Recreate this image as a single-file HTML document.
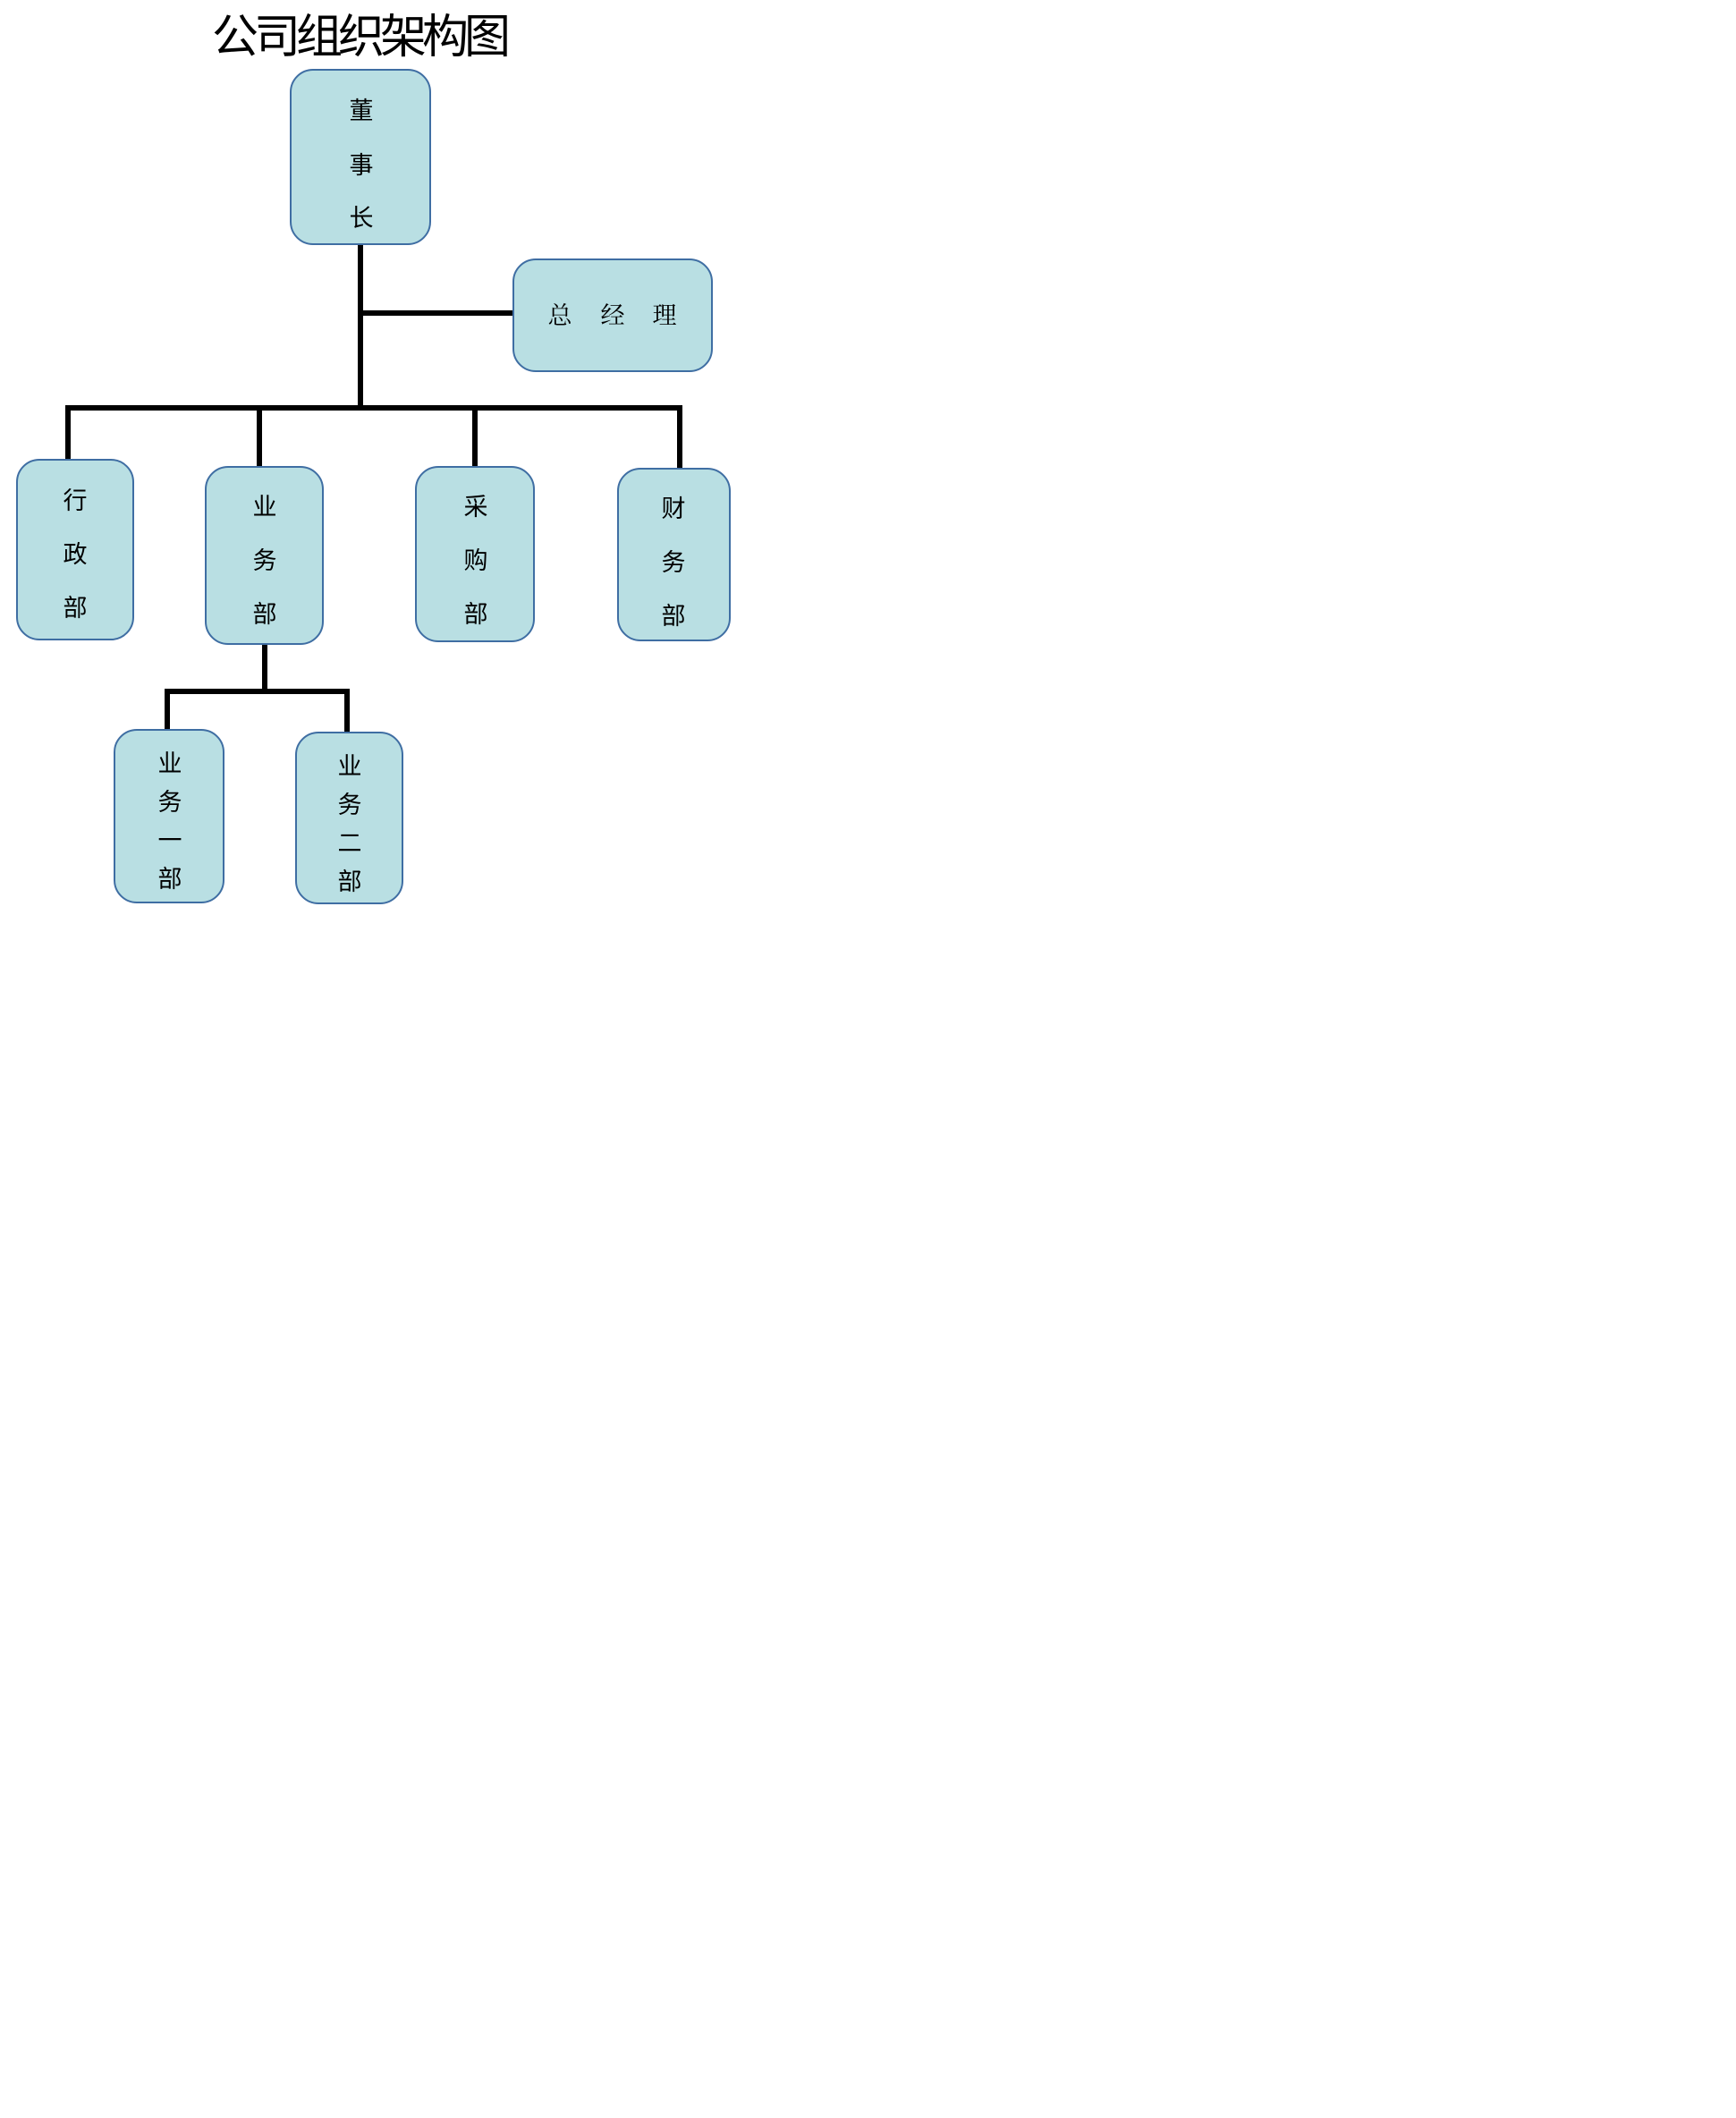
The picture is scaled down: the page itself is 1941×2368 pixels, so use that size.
<!DOCTYPE html>
<html><head><meta charset="utf-8"><style>
body{margin:0;width:1941px;height:2368px;background:#fff;position:relative;overflow:hidden;font-family:"Liberation Sans","Noto Sans CJK SC",sans-serif}
.b{position:absolute;background:#b9dfe3;border:2px solid #3f6ea3;border-radius:26px;box-sizing:border-box}
.l{position:absolute;background:#000}
.t{position:absolute;font-size:27px;line-height:30px;width:40px;margin-left:-20px;margin-top:-15px;text-align:center;color:#000}
.s{font-family:"Liberation Serif","Noto Serif CJK SC",serif}
</style></head><body>
<div style="position:absolute;left:237px;top:12px;font-size:52px;line-height:60px;letter-spacing:-5px">公司组织架构图</div>

<div class="l" style="left:400px;top:274px;width:6px;height:185px"></div>
<div class="l" style="left:403px;top:347px;width:171px;height:6px"></div>
<div class="l" style="left:73px;top:453px;width:690px;height:6px"></div>
<div class="l" style="left:73px;top:453px;width:6px;height:62px"></div>
<div class="l" style="left:287px;top:453px;width:6px;height:70px"></div>
<div class="l" style="left:528px;top:453px;width:6px;height:70px"></div>
<div class="l" style="left:757px;top:453px;width:6px;height:71px"></div>
<div class="l" style="left:293px;top:720px;width:6px;height:56px"></div>
<div class="l" style="left:184px;top:770px;width:207px;height:6px"></div>
<div class="l" style="left:184px;top:770px;width:6px;height:47px"></div>
<div class="l" style="left:385px;top:770px;width:6px;height:50px"></div>

<div class="b" style="left:324px;top:77px;width:158px;height:197px"></div>
<div class="b" style="left:573px;top:289px;width:224px;height:127px"></div>
<div class="b" style="left:18px;top:513px;width:132px;height:203px"></div>
<div class="b" style="left:229px;top:521px;width:133px;height:200px"></div>
<div class="b" style="left:464px;top:521px;width:134px;height:197px"></div>
<div class="b" style="left:690px;top:523px;width:127px;height:194px"></div>
<div class="b" style="left:127px;top:815px;width:124px;height:195px"></div>
<div class="b" style="left:330px;top:818px;width:121px;height:193px"></div>

<div class="t" style="left:404px;top:124px">董</div>
<div class="t" style="left:404px;top:185px">事</div>
<div class="t" style="left:404px;top:244px">长</div>
<div class="t s" style="left:626px;top:353px">总</div>
<div class="t s" style="left:685px;top:353px">经</div>
<div class="t s" style="left:743px;top:353px">理</div>
<div class="t" style="left:84px;top:560px">行</div>
<div class="t" style="left:84px;top:620px">政</div>
<div class="t" style="left:84px;top:680px">部</div>
<div class="t" style="left:296px;top:567px">业</div>
<div class="t" style="left:296px;top:627px">务</div>
<div class="t" style="left:296px;top:687px">部</div>
<div class="t" style="left:532px;top:567px">采</div>
<div class="t" style="left:532px;top:627px">购</div>
<div class="t" style="left:532px;top:687px">部</div>
<div class="t" style="left:753px;top:569px">财</div>
<div class="t" style="left:753px;top:629px">务</div>
<div class="t" style="left:753px;top:689px">部</div>
<div class="t" style="left:190px;top:854px">业</div>
<div class="t" style="left:190px;top:897px">务</div>
<div class="t" style="left:190px;top:940px">一</div>
<div class="t" style="left:190px;top:983px">部</div>
<div class="t" style="left:391px;top:857px">业</div>
<div class="t" style="left:391px;top:900px">务</div>
<div class="t" style="left:391px;top:943px">二</div>
<div class="t" style="left:391px;top:986px">部</div>
</body></html>
